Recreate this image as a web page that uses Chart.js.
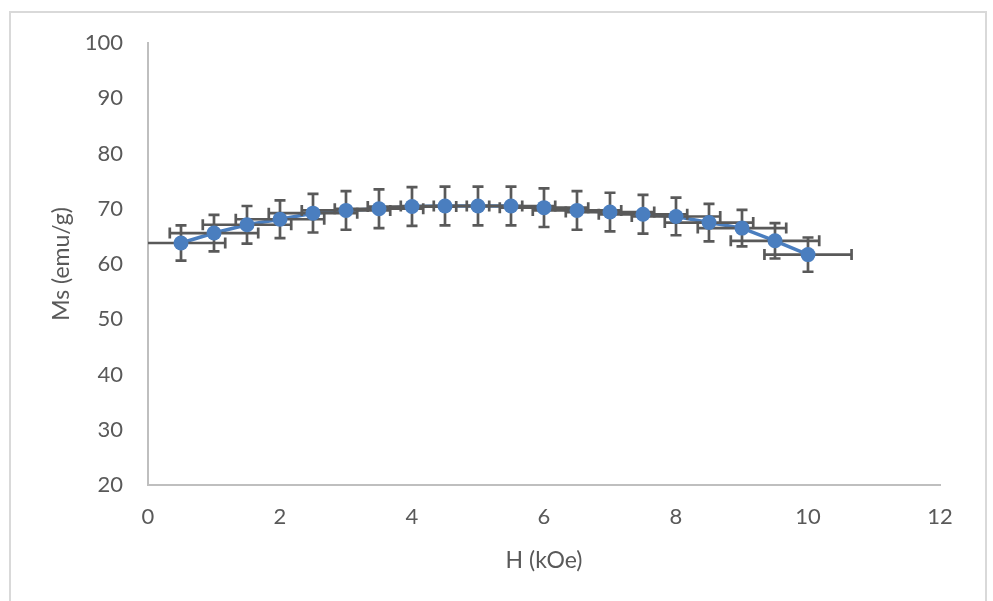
<!DOCTYPE html>
<html>
<head>
<meta charset="utf-8">
<script src="https://cdn.jsdelivr.net/npm/chart.js@4.4.1/dist/chart.umd.min.js"></script>
<style>
  body { margin: 0; background: #fff; }
  #wrap { position: relative; width: 993px; height: 601px; }
  #frame { position: absolute; left: 9px; top: 11px; width: 978px; height: 600px; border: 2px solid #d9d9d9; box-sizing: border-box; }
  canvas { position: absolute; left: 0; top: 0; }
</style>
</head>
<body>
<div id="wrap">
  <div id="frame"></div>
  <canvas id="msChart" width="993" height="601"></canvas>
</div>
<script>
// field H (kOe) and saturation magnetisation Ms (emu/g)
const fieldH = [0.5, 1, 1.5, 2, 2.5, 3, 3.5, 4, 4.5, 5, 5.5, 6, 6.5, 7, 7.5, 8, 8.5, 9, 9.5, 10];
const ms = [63.8, 65.6, 67.1, 68.1, 69.2, 69.7, 70.0, 70.4, 70.5, 70.5, 70.5, 70.2, 69.7, 69.4, 69.0, 68.6, 67.5, 66.5, 64.2, 61.7];
// error bar half-widths
const yErr = [3.2, 3.3, 3.4, 3.4, 3.5, 3.5, 3.5, 3.5, 3.5, 3.5, 3.5, 3.5, 3.5, 3.5, 3.5, 3.4, 3.4, 3.3, 3.2, 3.1];
const xErr = [0.67, 0.67, 0.67, 0.67, 0.67, 0.67, 0.67, 0.67, 0.67, 0.67, 0.67, 0.67, 0.67, 0.67, 0.67, 0.67, 0.67, 0.67, 0.67, 0.66];
const xTicks = [0, 2, 4, 6, 8, 10, 12];
const yTicks = [20, 30, 40, 50, 60, 70, 80, 90, 100];

const blue = '#4a7ebf';
const grey = '#595959';
const points = fieldH.map((h, i) => ({ x: h, y: ms[i] }));

// draws the x and y error bars between the line and the markers
const errorBars = {
    id: 'errorBars',
    afterDatasetDraw(chart, args) {
        if (args.index !== 0) return;
        const xs = chart.scales.x;
        const ys = chart.scales.y;
        const a = chart.chartArea;
        const ctx = chart.ctx;
        const cap = 5.5;
        ctx.save();
        ctx.beginPath();
        ctx.rect(a.left, a.top, a.right - a.left, a.bottom - a.top);
        ctx.clip();
        ctx.strokeStyle = grey;
        ctx.lineWidth = 2.7;
        fieldH.forEach((h, i) => {
            const px = xs.getPixelForValue(h);
            const py = ys.getPixelForValue(ms[i]);
            const xl = xs.getPixelForValue(h - xErr[i]);
            const xr = xs.getPixelForValue(h + xErr[i]);
            const yt = ys.getPixelForValue(ms[i] + yErr[i]);
            const yb = ys.getPixelForValue(ms[i] - yErr[i]);
            ctx.beginPath();
            ctx.moveTo(xl, py); ctx.lineTo(xr, py);
            ctx.moveTo(xl, py - cap); ctx.lineTo(xl, py + cap);
            ctx.moveTo(xr, py - cap); ctx.lineTo(xr, py + cap);
            ctx.moveTo(px, yt); ctx.lineTo(px, yb);
            ctx.moveTo(px - cap, yt); ctx.lineTo(px + cap, yt);
            ctx.moveTo(px - cap, yb); ctx.lineTo(px + cap, yb);
            ctx.stroke();
        });
        ctx.restore();
    }
};

const tickFont = { family: 'Lato', size: 22 };
const titleFont = { family: 'Lato', size: 23 };

new Chart(document.getElementById('msChart'), {
    type: 'line',
    data: {
        datasets: [{
            data: points,
            borderColor: blue,
            borderWidth: 3.5,
            pointRadius: 0,
            tension: 0,
            order: 2
        }, {
            data: points,
            showLine: false,
            pointRadius: 7.5,
            pointBackgroundColor: blue,
            pointBorderColor: blue,
            pointBorderWidth: 0,
            order: 1
        }]
    },
    options: {
        responsive: false,
        animation: false,
        devicePixelRatio: 1,
        layout: { padding: { left: 48, top: 43, right: 53, bottom: 27 } },
        plugins: { legend: { display: false }, tooltip: { enabled: false } },
        scales: {
            x: {
                type: 'linear',
                min: 0,
                max: 12,
                afterBuildTicks: s => { s.ticks = xTicks.map(v => ({ value: v })); },
                afterFit: s => { s.height = 89; },
                grid: { display: false, drawTicks: false },
                border: { display: true, color: '#bfbfbf', width: 2 },
                ticks: { color: grey, font: tickFont, padding: 19, maxRotation: 0 },
                title: { display: true, text: 'H (kOe)', color: grey, font: titleFont, padding: 0 }
            },
            y: {
                min: 20,
                max: 100,
                afterBuildTicks: s => { s.ticks = yTicks.map(v => ({ value: v })); },
                afterFit: s => { s.width = 100; },
                grid: { display: false, drawTicks: false },
                border: { display: true, color: '#bfbfbf', width: 2 },
                ticks: { color: grey, font: tickFont, padding: 25 },
                title: { display: true, text: 'Ms (emu/g)', color: grey, font: titleFont, padding: 0 }
            }
        }
    },
    plugins: [errorBars]
});
</script>
</body>
</html>
